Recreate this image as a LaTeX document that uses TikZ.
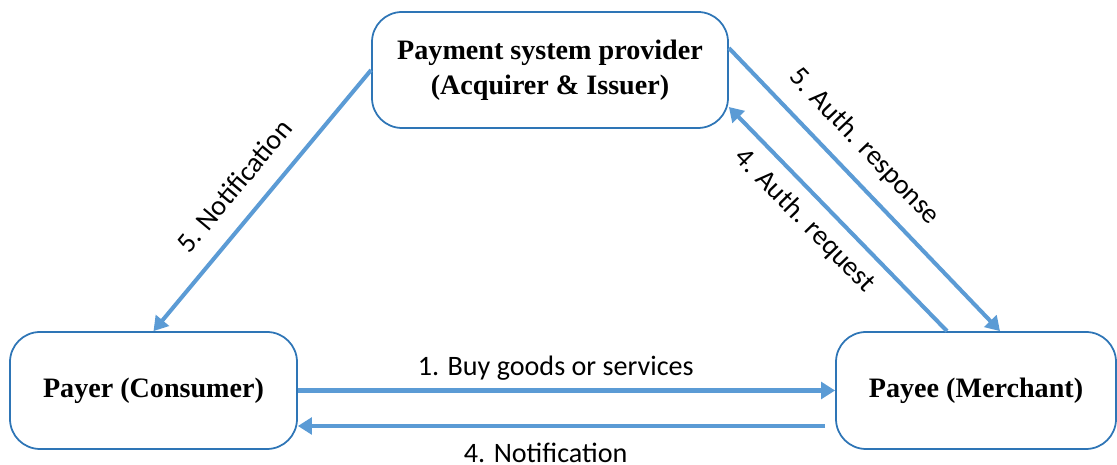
\documentclass[tikz,border=0pt]{standalone}
\usepackage{fontspec}
\setmainfont{Liberation Serif}
\newfontfamily\labelfont{Carlito}
\usepackage{tikz}
\usetikzlibrary{
  arrows.meta,   % Triangle 箭头样式
  positioning    % 节点相对定位
}
\definecolor{boxblue}{RGB}{46,117,182}
\definecolor{flowblue}{RGB}{91,155,213}
\tikzset{
  party/.style={
    draw=boxblue,
    line width=1pt,
    rounded corners=0.6cm,
    align=center,
    inner sep=0pt,
    font=\fontsize{16}{20}\selectfont\bfseries
  },
  flow/.style={
    -{Triangle[length=8pt,width=9.5pt]},
    line width=2.3pt,
    color=flowblue
  },
  flow label/.style={
    font=\labelfont\fontsize{16}{20}\selectfont,
    text=black
  }
}

\begin{document}
\begin{tikzpicture} % 三方支付流程：上方为支付系统提供方，左下付款人，右下收款人
  \useasboundingbox (0,0) rectangle (22.34,9.3); % 固定画布大小

  % 三个参与方
  \node[party, minimum width=7.12cm, minimum height=2.32cm] (psp) at (11.0, 7.9) {Payment system provider\\(Acquirer \& Issuer)}; % 支付系统提供方
  \node[party, minimum width=5.74cm, minimum height=2.34cm] (payer) at (3.07, 1.49) {Payer (Consumer)}; % 付款人
  \node[party, minimum width=5.6cm, minimum height=2.34cm] (payee) at (19.52, 1.49) {Payee (Merchant)}; % 收款人

  % 付款人与收款人之间的往返
  \draw[flow] (payer.east) -- node[flow label, above=1.5pt, pos=0.48] {1. Buy goods or services} (payee.west); % 购买
  \draw[flow] ([xshift=-0.2cm, yshift=-0.71cm]payee.west) -- node[flow label, below=5.5pt, pos=0.53] {4. Notification} ([yshift=-0.71cm]payer.east); % 回执通知

  % 收款人与提供方之间的授权请求与响应
  \draw[flow] ([xshift=-0.58cm]payee.north) -- node[flow label, sloped, below=3pt, pos=0.57] {4. Auth. request} ([yshift=-0.74cm]psp.east); % 授权请求
  \draw[flow] ([yshift=0.44cm]psp.east) -- node[flow label, sloped, above=5.5pt, pos=0.42] {5. Auth. response} ([xshift=0.48cm]payee.north); % 授权响应

  % 提供方通知付款人
  \draw[flow] (psp.west) -- node[flow label, sloped, above=7.5pt, pos=0.52] {5. Notification} (payer.north); % 通知
\end{tikzpicture}
\end{document}
